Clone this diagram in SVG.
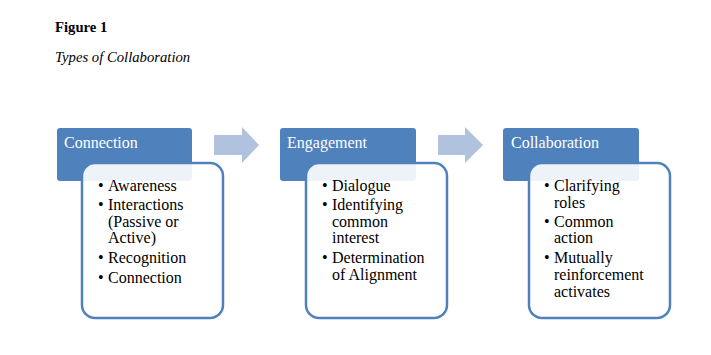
<svg xmlns="http://www.w3.org/2000/svg" width="711" height="355" viewBox="0 0 711 355">
<style>
.title{font-family:"Liberation Serif",serif;font-size:14.7px;fill:#000}
.hdr{fill:#4f81bd}
.hdrt{font-family:"Liberation Serif",serif;font-size:16px;fill:#fff}
.box{fill:#fff;fill-opacity:0.9;stroke:#4f81bd;stroke-width:2.5}
.txt{font-family:"Liberation Serif",serif;font-size:16px;fill:#000}
.arr{fill:#b0c2de}
</style>
<rect width="711" height="355" fill="#fff"/>
<text class="title" x="55" y="31.5" font-weight="bold">Figure 1</text>
<text class="title" x="55" y="62" font-style="italic">Types of Collaboration</text>
<g id="connectors">
<polygon class="arr" points="214,135 242,135 242,127 259,145 242,163 242,155 214,155"/>
<polygon class="arr" points="438,135 465,135 465,127 483,145 465,163 465,155 438,155"/>
</g>
<g id="connection">
<rect class="hdr" x="57" y="128" width="135" height="53" rx="3"/>
<text class="hdrt" x="64" y="148.3">Connection</text>
<rect class="box" x="82" y="163" width="141" height="155" rx="13"/>
<g class="txt">
<text x="98" y="191">•</text><text x="108" y="191">Awareness</text>
<text x="98" y="210">•</text><text x="108" y="210">Interactions</text>
<text x="108" y="226.7">(Passive or</text>
<text x="108" y="243.4">Active)</text>
<text x="98" y="263.2">•</text><text x="108" y="263.2">Recognition</text>
<text x="98" y="283">•</text><text x="108" y="283">Connection</text>
</g>
</g>
<g id="engagement">
<rect class="hdr" x="280" y="128" width="136" height="53" rx="3"/>
<text class="hdrt" x="287" y="148.3">Engagement</text>
<rect class="box" x="306" y="163" width="141" height="155" rx="13"/>
<g class="txt">
<text x="322" y="191">•</text><text x="332" y="191">Dialogue</text>
<text x="322" y="210">•</text><text x="332" y="210">Identifying</text>
<text x="332" y="226.7">common</text>
<text x="332" y="243.4">interest</text>
<text x="322" y="263.2">•</text><text x="332" y="263.2">Determination</text>
<text x="332" y="280">of Alignment</text>
</g>
</g>
<g id="collaboration">
<rect class="hdr" x="503" y="128" width="136" height="53" rx="3"/>
<text class="hdrt" x="511" y="148.3">Collaboration</text>
<rect class="box" x="529" y="163" width="141" height="155" rx="13"/>
<g class="txt">
<text x="544" y="191">•</text><text x="554" y="191">Clarifying</text>
<text x="554" y="207.5">roles</text>
<text x="544" y="226.7">•</text><text x="554" y="226.7">Common</text>
<text x="554" y="243.3">action</text>
<text x="544" y="262.8">•</text><text x="554" y="262.8">Mutually</text>
<text x="554" y="279.7">reinforcement</text>
<text x="554" y="296.6">activates</text>
</g>
</g>
</svg>
